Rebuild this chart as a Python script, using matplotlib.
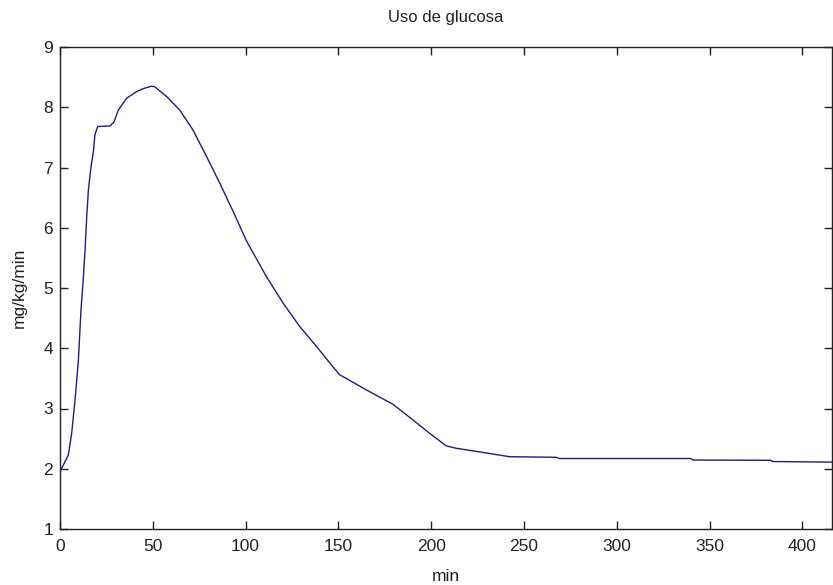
import matplotlib
matplotlib.use("Agg")
import matplotlib.pyplot as plt
from matplotlib import font_manager

# Data
t_min = [0, 4.5, 6.3, 8.1, 9.9, 11.3, 12.5, 13.5, 14.4, 15.3, 16.7, 17.9, 18.8, 20.3,
         26.9, 29, 31.4, 35.9, 41.3, 45, 49.3, 51, 57.4, 64.6, 71.7, 79, 86.1, 93.3,
         100.5, 111.2, 120.2, 129.2, 138.2, 147.1, 150.7, 165, 179.4, 190.2, 199.1,
         208.1, 213.5, 226, 242.2, 267.3, 269, 340, 341, 383, 384, 416]
glucose_use = [1.95, 2.23, 2.59, 3.14, 3.8, 4.63, 5.13, 5.63, 6.18, 6.63, 7.01, 7.24, 7.54, 7.68,
               7.69, 7.75, 7.95, 8.15, 8.26, 8.31, 8.35, 8.34, 8.18, 7.95, 7.62, 7.18, 6.74, 6.27,
               5.78, 5.19, 4.75, 4.36, 4.03, 3.69, 3.56, 3.31, 3.07, 2.81, 2.59,
               2.38, 2.34, 2.28, 2.2, 2.19, 2.17, 2.17, 2.145, 2.14, 2.12, 2.11]

x_ticks = [0, 50, 100, 150, 200, 250, 300, 350, 400]
y_ticks = [1, 2, 3, 4, 5, 6, 7, 8, 9]

available = {f.name for f in font_manager.fontManager.ttflist}
fam = ['Liberation Sans Narrow'] if 'Liberation Sans Narrow' in available else []
plt.rcParams['font.family'] = fam + ['Liberation Sans', 'DejaVu Sans']
tick_size = 14 if fam else 12.5

fig = plt.figure(figsize=(8.33, 5.85), dpi=100)
ax = fig.add_axes([60/833, 56/585, 772/833, 482/585])

ax.plot(t_min, glucose_use, color='#1c1c8c', linewidth=1.0)

ax.set_xlim(0, 416)
ax.set_ylim(1, 9)
ax.set_xticks(x_ticks)
ax.set_yticks(y_ticks)
ax.tick_params(direction='in', length=6, width=1, top=True, right=True,
               labelsize=tick_size, colors='#222222')
ax.tick_params(axis='x', pad=7)
ax.tick_params(axis='y', pad=5)
for s in ax.spines.values():
    s.set_color('#222222')
    s.set_linewidth(1.0)

ax.set_title('Uso de glucosa', fontsize=12, pad=18, color='#222222',
             family=['Liberation Sans', 'DejaVu Sans'])
ax.set_xlabel('min', fontsize=tick_size, labelpad=11, color='#222222')
ax.set_ylabel('mg/kg/min', fontsize=tick_size, labelpad=12, color='#222222')

fig.savefig('out.png', dpi=100, facecolor='white')
